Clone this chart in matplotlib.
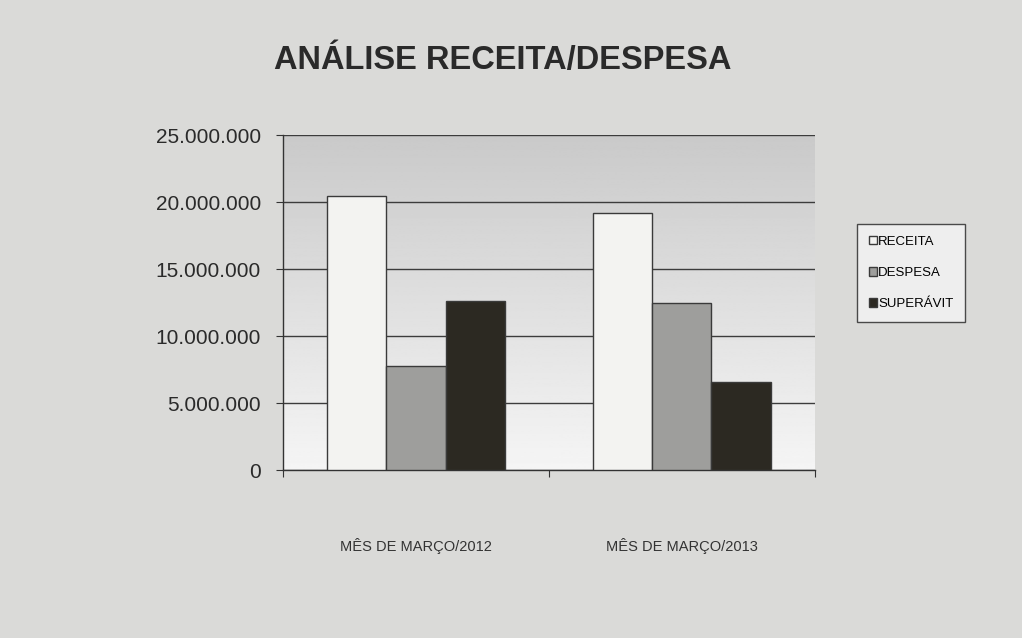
import matplotlib.pyplot as plt
import numpy as np

categories = ["MÊS DE MARÇO/2012", "MÊS DE MARÇO/2013"]
series_names = ["RECEITA", "DESPESA", "SUPERÁVIT"]
receita = [20500000, 19200000]
despesa = [7800000, 12500000]
superavit = [12600000, 6600000]
yticks = [0, 5000000, 10000000, 15000000, 20000000, 25000000]
ytick_labels = ["0", "5.000.000", "10.000.000", "15.000.000", "20.000.000", "25.000.000"]

plt.rcParams["font.family"] = ["Liberation Sans", "DejaVu Sans"]

fig = plt.figure(figsize=(10.22, 6.38), dpi=100, facecolor="#dadad8")
ax = fig.add_axes([0.277, 0.263, 0.52, 0.525])
ax.set_facecolor("#f2f2f2")

# gradient plot area: gray on top, nearly white at the bottom
grad = np.linspace(0.79, 0.96, 256).reshape(-1, 1)
ax.imshow(grad, cmap="gray", vmin=0, vmax=1, aspect="auto",
          extent=[0, 2, 0, 25000000], origin="upper", zorder=0)

x = np.arange(len(categories)) + 0.5
w = 0.223
colors = ["#f3f3f1", "#9e9e9c", "#2c2922"]
for i, (vals, c) in enumerate(zip([receita, despesa, superavit], colors)):
    ax.bar(x + (i - 1) * w, vals, width=w, color=c, edgecolor="#3a3a3a",
           linewidth=1.0, label=series_names[i], zorder=3)

ax.set_xlim(0, 2)
ax.set_ylim(0, 25000000)
ax.set_yticks(yticks)
ax.set_yticklabels(ytick_labels, fontsize=15, color="#2a2a2a")
ax.yaxis.grid(True, color="#3c3c3c", linewidth=1.0, zorder=1)
ax.set_axisbelow(True)

ax.set_xticks([0, 1, 2])
ax.set_xticklabels([])
ax.set_xticks(x, minor=True)
ax.set_xticklabels(categories, minor=True, fontsize=10.5, color="#333333")
ax.tick_params(axis="x", which="minor", length=0, pad=49)
ax.tick_params(axis="x", which="major", length=5, direction="out", color="#333333")
ax.tick_params(axis="y", length=5, direction="out", color="#333333", pad=11)

for side in ["top", "right"]:
    ax.spines[side].set_visible(False)
for side in ["left", "bottom"]:
    ax.spines[side].set_color("#333333")
    ax.spines[side].set_linewidth(1.0)

fig.text(0.492, 0.905, "ANÁLISE RECEITA/DESPESA", ha="center", va="center",
         fontsize=23.5, fontweight="bold", color="#2a2a2a")

leg = fig.legend(loc="center left", bbox_to_anchor=(0.832, 0.572), fontsize=9.5,
                 frameon=True, fancybox=False, handlelength=0.6, handleheight=0.6,
                 handletextpad=0.1, labelspacing=1.45, borderpad=0.9)
leg.get_frame().set_edgecolor("#222222")
leg.get_frame().set_facecolor("#f4f4f4")
leg.get_frame().set_linewidth(1.0)

fig.savefig("out.png", dpi=100, facecolor=fig.get_facecolor())
